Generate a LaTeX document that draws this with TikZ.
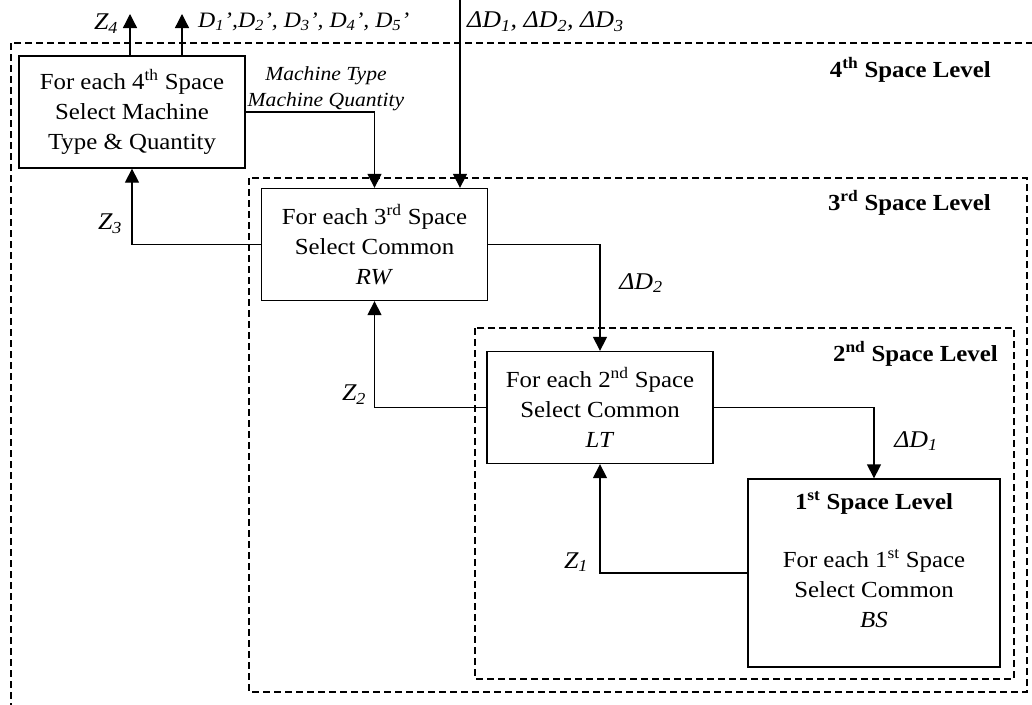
\documentclass[tikz,border=0pt]{standalone}
\usepackage{fontspec}
\setmainfont[FakeStretch=1.08]{Liberation Serif}
\usetikzlibrary{arrows.meta}
\begin{document}
\begin{tikzpicture}[x=1pt,y=-1pt,
  box/.style={draw, line width=1.3pt, minimum width=226pt, minimum height=112pt,
    inner sep=0pt, align=center, font=\fontsize{23}{30}\selectfont},
  level/.style={draw, line width=1.8pt, dash pattern=on 7pt off 4pt},
  link/.style={line width=1.3pt, -{Triangle[length=14pt,width=14pt]}},
  tag/.style={font=\fontsize{24}{28}\selectfont\itshape, inner sep=0pt},
  levelname/.style={font=\fontsize{23}{28}\selectfont\bfseries, inner sep=0pt, anchor=east},
]
\useasboundingbox (0,0) rectangle (1032,704);
\clip (0,0) rectangle (1032,704);

% nested space levels
\draw[level] (11,43) rectangle (1050,725);
\draw[level] (249,178) rectangle (1027,692);
\draw[level] (475,328) rectangle (1014,679);

\node[levelname] (l4) at (991,70) {4\textsuperscript{th} Space Level};
\node[levelname] (l3) at (991,203) {3\textsuperscript{rd} Space Level};
\node[levelname] (l2) at (998,354) {2\textsuperscript{nd} Space Level};

% decision boxes
\node[box] (b4) at (132,112) {For each 4\textsuperscript{th} Space\\Select Machine\\Type \& Quantity};
\node[box] (b3) at (374.5,244.5) {For each 3\textsuperscript{rd} Space\\Select Common\\\textit{RW}};
\node[box] (b2) at (600,407.5) {For each 2\textsuperscript{nd} Space\\Select Common\\\textit{LT}};
\node[box, minimum width=252pt, minimum height=188pt] (b1) at (874,573) {};
\node[align=center, inner sep=0pt, font=\fontsize{23}{30}\selectfont] (b1text) at (874,560)
  {\textbf{1\textsuperscript{st} Space Level}\\[28pt]For each 1\textsuperscript{st} Space\\Select Common\\\textit{BS}};

% free ends at the top
\coordinate (z4end) at (130,14);
\coordinate (dend) at (182,14);
\coordinate (din) at (460,0);

% connectors
\draw[link] (b4.north -| z4end) -- (z4end);
\draw[link] (b4.north -| dend) -- (dend);
\draw[link] (din) -- (din |- b3.north);
\draw[link] (b4.east) -| (b3.north);
\draw[link] (b3.west) -| (b4.south);
\draw[link] (b3.east) -| (b2.north);
\draw[link] (b2.west) -| (b3.south);
\draw[link] (b2.east) -| (b1.north);
\draw[link] (b1.west) -| (b2.south);

% connector labels
\node[tag] (tz4) at (106,24) {Z\textsubscript{4}};
\node[tag, anchor=west, font=\fontsize{22}{26}\selectfont\itshape] (td) at (198,22) {D\textsubscript{1}’,D\textsubscript{2}’, D\textsubscript{3}’, D\textsubscript{4}’, D\textsubscript{5}’};
\node[tag, anchor=west] (tdd) at (467,22) {ΔD\textsubscript{1}, ΔD\textsubscript{2}, ΔD\textsubscript{3}};
\node[tag, align=center, font=\fontsize{20}{26}\selectfont\itshape] (tm) at (326,89) {Machine Type\\Machine Quantity};
\node[tag] (tz3) at (110,224) {Z\textsubscript{3}};
\node[tag] (tz2) at (354,395) {Z\textsubscript{2}};
\node[tag] (tz1) at (576,562) {Z\textsubscript{1}};
\node[tag] (tdd2) at (641,283) {ΔD\textsubscript{2}};
\node[tag] (tdd1) at (916,441) {ΔD\textsubscript{1}};
\end{tikzpicture}
\end{document}
